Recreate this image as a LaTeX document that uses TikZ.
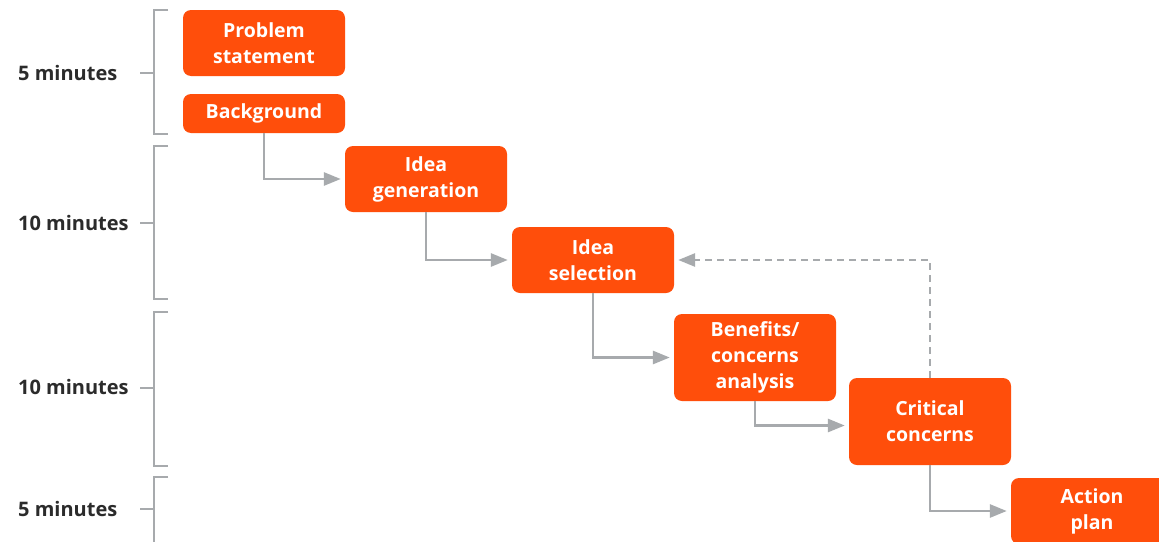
\documentclass[tikz,border=0pt]{standalone}
\usepackage{fontspec}
\setmainfont{Open Sans}
\usetikzlibrary{arrows.meta}
\definecolor{boxfill}{HTML}{FF4E0B}
\definecolor{linegray}{HTML}{A7AAAD}
\definecolor{labeltext}{HTML}{2B2B2B}
\tikzset{
  stage/.style={draw=none, fill=boxfill, rounded corners=8pt, text=white,
    font=\bfseries\fontsize{19.5}{26}\selectfont, align=center,
    minimum width=162pt, inner sep=0pt, yshift=0pt},
  conn/.style={draw=linegray, line width=2.8pt,
    -{Triangle[length=17pt,width=13pt]}, shorten >=4pt},
  brace/.style={draw=linegray, line width=2.8pt},
  timelabel/.style={anchor=west, inner sep=0pt, text=labeltext,
    font=\bfseries\fontsize{20}{24}\selectfont}
}
\begin{document}
\begin{tikzpicture}[x=1pt, y=-1pt]
\clip (0,0) rectangle (1159,541);
\fill[white] (0,0) rectangle (1159,541);

% process stages
\node[stage, minimum height=66pt] (prob) at (264,43) {Problem\\statement};
\node[stage, minimum height=39pt] (bg) at (264,113.5) {Background};
\node[stage, minimum height=66pt] (gen) at (426,179) {Idea\\generation};
\node[stage, minimum height=66pt] (sel) at (593,260) {Idea\\selection};
\node[stage, minimum height=87pt] (ben) at (755,357.5) {Benefits/\\concerns\\analysis};
\node[stage, minimum height=87pt] (crit) at (930,421.5) {Critical\\concerns};
\node[stage, minimum height=66pt] (act) at (1092,511) {Action\\plan};

% flow between stages
\draw[conn] (bg.south) |- (gen.west);
\draw[conn] (gen.south) |- (sel.west);
\draw[conn] (sel.south) |- (ben.west);
\draw[conn] (ben.south) |- ([yshift=-4pt]crit.west);
\draw[conn] (crit.south) |- (act.west);
\draw[conn, dashed, dash pattern=on 7pt off 5pt] (crit.north) |- (sel.east);

% time brackets
\draw[brace] (168,10) -| (154,134) -- (168,134);
\draw[brace] (140,73) -- (154,73);
\draw[brace] (168,146) -| (154,299) -- (168,299);
\draw[brace] (140,223) -- (154,223);
\draw[brace] (168,312) -| (154,466) -- (168,466);
\draw[brace] (140,388) -- (154,388);
\draw[brace] (168,477) -| (154,560);
\draw[brace] (140,509) -- (154,509);

% time labels
\node[timelabel] (t1) at (18,73) {5 minutes};
\node[timelabel] (t2) at (18,223) {10 minutes};
\node[timelabel] (t3) at (18,387) {10 minutes};
\node[timelabel] (t4) at (18,509) {5 minutes};
\end{tikzpicture}
\end{document}
